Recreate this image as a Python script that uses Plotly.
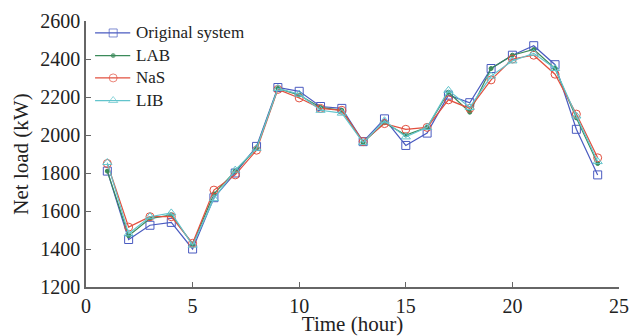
import plotly.graph_objects as go

hours = list(range(1, 25))
original = [1810, 1450, 1525, 1540, 1400, 1670, 1800, 1940, 2250, 2230, 2150, 2140,
            1965, 2085, 1945, 2010, 2210, 2170, 2350, 2420, 2470, 2370, 2030, 1790]
lab = [1810, 1470, 1560, 1580, 1425, 1690, 1810, 1930, 2245, 2210, 2145, 2130,
       1960, 2065, 2000, 2040, 2225, 2120, 2350, 2420, 2450, 2350, 2090, 1850]
nas = [1850, 1515, 1570, 1570, 1430, 1710, 1790, 1920, 2240, 2195, 2140, 2130,
       1965, 2060, 2030, 2040, 2185, 2140, 2290, 2400, 2420, 2320, 2110, 1880]
lib = [1855, 1480, 1570, 1590, 1420, 1665, 1815, 1930, 2245, 2215, 2130, 2115,
       1960, 2075, 1990, 2040, 2235, 2145, 2310, 2390, 2430, 2350, 2100, 1860]

series_names = ["Original system", "LAB", "NaS", "LIB"]
x_ticks = [0, 5, 10, 15, 20, 25]
y_ticks = [1200, 1400, 1600, 1800, 2000, 2200, 2400, 2600]

styles = [
    ("#4a5bc0", "square-open", 8),
    ("#3b8a5a", "circle", 4),
    ("#e2503f", "circle-open", 8),
    ("#62c4cc", "triangle-up-open", 8),
]
data = [original, lab, nas, lib]

font_family = "Liberation Serif, Times New Roman, serif"
fig = go.Figure()
for name, vals, (color, sym, size) in zip(series_names, data, styles):
    fig.add_trace(go.Scatter(
        x=hours, y=vals, name=name, mode="lines+markers", showlegend=False,
        line=dict(color=color, width=1.2),
        marker=dict(symbol=sym, size=size, color=color, line=dict(color=color, width=1)),
    ))

# custom compact legend (line sample + marker + text) in the top-left corner
leg_x0, leg_xm, leg_x1, leg_tx = 0.017, 0.051, 0.083, 0.090
leg_rows = [0.955, 0.870, 0.786, 0.701]
annotations = []
for name, (color, sym, size), ly in zip(series_names, styles, leg_rows):
    fig.add_trace(go.Scatter(
        x=[leg_x0, leg_xm, leg_x1], y=[ly, ly, ly], xaxis="x2", yaxis="y2",
        mode="lines+markers", showlegend=False, hoverinfo="skip",
        line=dict(color=color, width=1.2),
        marker=dict(symbol=sym, size=[0, size, 0], color=color,
                    line=dict(color=color, width=[0, 1, 0])),
    ))
    annotations.append(dict(x=leg_tx, y=ly, xref="paper", yref="paper",
                            text=name, showarrow=False, xanchor="left", yanchor="middle",
                            font=dict(size=17, family=font_family, color="#222")))

fig.update_layout(
    width=632, height=336,
    margin=dict(l=86, r=13, t=21, b=49),
    paper_bgcolor="white", plot_bgcolor="white",
    font=dict(family=font_family, size=20, color="#222"),
    showlegend=False,
    annotations=annotations,
    xaxis=dict(range=[0, 25], tickvals=x_ticks, ticks="inside", ticklen=5,
               showline=True, linecolor="#666", linewidth=1.5, tickcolor="#666",
               showgrid=False, zeroline=False, tickfont=dict(size=20), automargin=False,
               title=dict(text="Time (hour)", standoff=2, font=dict(size=21))),
    yaxis=dict(range=[1200, 2600], tickvals=y_ticks, ticks="inside", ticklen=5,
               showline=True, linecolor="#666", linewidth=1.5, tickcolor="#666",
               showgrid=False, zeroline=False, tickfont=dict(size=20), automargin=False,
               title=dict(text="Net load (kW)", standoff=6, font=dict(size=21))),
    xaxis2=dict(overlaying="x", range=[0, 1], visible=False, fixedrange=True),
    yaxis2=dict(overlaying="y", range=[0, 1], visible=False, fixedrange=True),
)

fig.write_html("out.html")
